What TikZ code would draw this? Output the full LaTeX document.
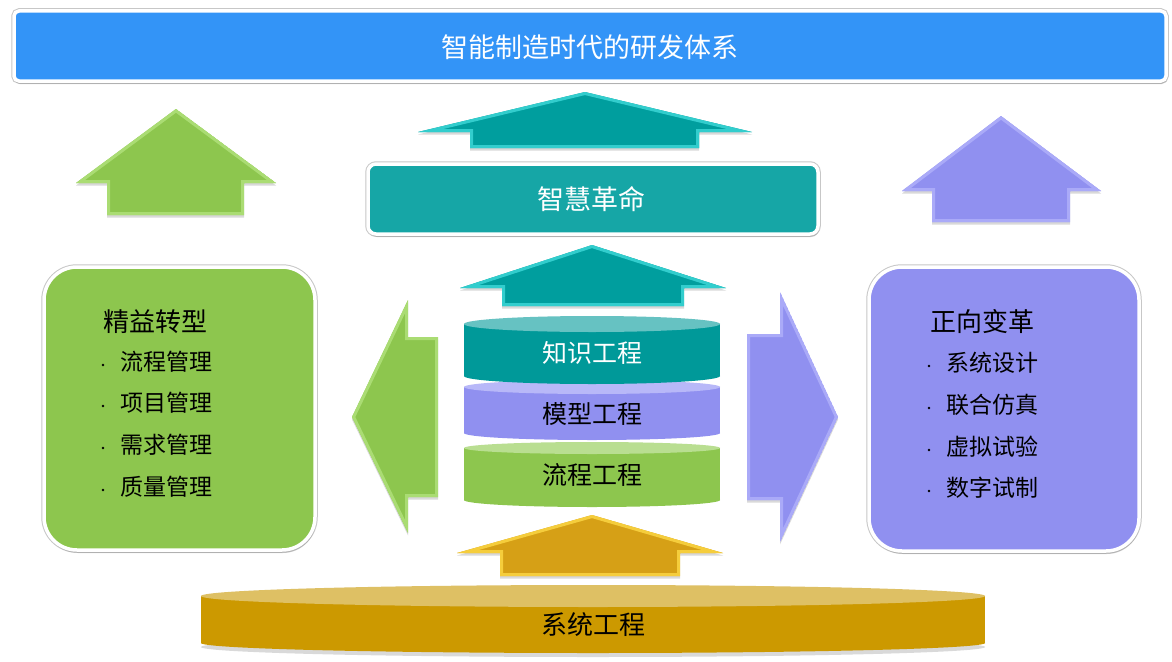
\documentclass[tikz,border=0pt]{standalone}
\usepackage{fontspec}
\newfontfamily\cjk{Noto Sans CJK SC}
\usetikzlibrary{shadows}
\definecolor{bannerblue}{RGB}{51,148,247}
\definecolor{tealbox}{RGB}{22,166,166}
\definecolor{tealmain}{RGB}{0,158,158}
\definecolor{teallight}{RGB}{50,205,205}
\definecolor{tealbody}{RGB}{0,153,153}
\definecolor{tealtop}{RGB}{102,194,194}
\definecolor{purmain}{RGB}{144,144,240}
\definecolor{purlight}{RGB}{170,170,248}
\definecolor{purtop}{RGB}{184,184,248}
\definecolor{grnmain}{RGB}{141,198,78}
\definecolor{grnlight}{RGB}{170,220,115}
\definecolor{grntop}{RGB}{185,222,145}
\definecolor{goldbody}{RGB}{204,153,0}
\definecolor{goldtop}{RGB}{222,192,100}
\definecolor{goldmain}{RGB}{214,160,22}
\definecolor{goldlight}{RGB}{245,205,60}
\newcommand\bevelpoly[3]{%
  \fill[black,opacity=0.15,yshift=-2.5pt] #1;
  \begin{scope}
    \clip #1;
    \fill[#2] #1;
    \draw[#3,line width=6pt,line join=miter] #1;
  \end{scope}}
\newcommand\cylshape[7]{% cx, rx, ytop, rytop, ybot, rybot, body color
  \fill[#7] (#1-#2,#3) rectangle (#1+#2,#5);
  \fill[#7] (#1,#5) ellipse[x radius=#2, y radius=#6];
}
\tikzset{
  panel/.style={draw=white, line width=3.5pt, preaction={draw=black!22, line width=5.5pt},
    drop shadow={shadow xshift=1pt, shadow yshift=-3pt, opacity=0.3}},
  bullet/.style={circle, fill=black, inner sep=0pt, minimum size=2.6pt},
  bigtxt/.style={font=\cjk\fontsize{27}{30}\selectfont},
  cyltxt/.style={font=\cjk\fontsize{25}{28}\selectfont},
  headtxt/.style={font=\cjk\fontsize{26}{29}\selectfont},
  itemtxt/.style={font=\cjk\fontsize{23}{26}\selectfont},
}
\begin{document}
\begin{tikzpicture}[x=1pt,y=-1pt]
\useasboundingbox (0,0) rectangle (1172,661);
\fill[white] (0,0) rectangle (1172,661);

% top banner
\node[panel, fill=bannerblue, rounded corners=5pt, minimum width=1152pt, minimum height=70pt, inner sep=0pt] (banner) at (590,46) {};
\node[bigtxt, text=white] (bannertxt) at (590,47) {智能制造时代的研发体系};

% side up arrows
\bevelpoly{(176,109) -- (276,183) -- (244,183) -- (244,215) -- (107,215) -- (107,183) -- (76,183) -- cycle}{grnmain}{grnlight}
\bevelpoly{(1001,116) -- (1101,191) -- (1070,191) -- (1070,222) -- (932,222) -- (932,191) -- (902,191) -- cycle}{purmain}{purlight}

% top teal arrow
\bevelpoly{(585,92) -- (752,132) -- (699,132) -- (699,148) -- (470,148) -- (470,132) -- (418,132) -- cycle}{tealmain}{teallight}

% wisdom revolution box
\node[panel, fill=tealbox, rounded corners=8pt, minimum width=450pt, minimum height=70pt, inner sep=0pt] (wisdom) at (593,199) {};
\node[bigtxt, text=white] (wisdomtxt) at (591,199) {智慧革命};

% middle teal arrow
\bevelpoly{(592,245) -- (726,288) -- (684,288) -- (684,306) -- (502,306) -- (502,288) -- (460,288) -- cycle}{tealmain}{teallight}

% left / right arrows
\bevelpoly{(352,417) -- (408,300) -- (408,337) -- (438,337) -- (438,497) -- (408,497) -- (408,533) -- cycle}{grnmain}{grnlight}
\bevelpoly{(838,417) -- (780,292) -- (780,334) -- (747,334) -- (747,500) -- (780,500) -- (780,542) -- cycle}{purmain}{purlight}

% bottom gold arrow
\bevelpoly{(592,515) -- (723,553) -- (680,553) -- (680,576) -- (500,576) -- (500,553) -- (457,553) -- cycle}{goldmain}{goldlight}

% stacked cylinders
\cylshape{592}{128}{448}{6}{500}{7}{grnmain}
\fill[grntop] (592,448) ellipse[x radius=128, y radius=6];
\cylshape{592}{128}{387}{7}{433}{7}{purmain}
\fill[purtop] (592,387) ellipse[x radius=128, y radius=7];
\cylshape{592}{128}{324}{8}{376}{8}{tealbody}
\fill[tealtop] (592,324) ellipse[x radius=128, y radius=8];
\node[cyltxt, text=white] (know) at (592,353) {知识工程};
\node[cyltxt, text=black] (model) at (592,414) {模型工程};
\node[cyltxt, text=black] (flow) at (592,475) {流程工程};

% system engineering base
\fill[black,opacity=0.15] (593,647) ellipse[x radius=392, y radius=10];
\cylshape{593}{392}{596}{11}{643}{10}{goldbody}
\fill[goldtop] (593,596) ellipse[x radius=392, y radius=11];
\node[headtxt, text=black] (syseng) at (593,625) {系统工程};

% left panel
\node[panel, fill=grnmain, rounded corners=33pt, minimum width=271pt, minimum height=283pt, inner sep=0pt] (lean) at (179.5,408.5) {};
\node[headtxt] (leantitle) at (155,322) {精益转型};
\node[itemtxt] (l1) at (166,362) {流程管理};
\node[itemtxt] (l2) at (166,403) {项目管理};
\node[itemtxt] (l3) at (166,445) {需求管理};
\node[itemtxt] (l4) at (166,487) {质量管理};
\node[bullet] (lb1) at (103,365) {};
\node[bullet] (lb2) at (103,406) {};
\node[bullet] (lb3) at (103,448) {};
\node[bullet] (lb4) at (103,490) {};

% right panel
\node[panel, fill=purmain, rounded corners=33pt, minimum width=270pt, minimum height=284pt, inner sep=0pt] (fwd) at (1004,409) {};
\node[headtxt] (fwdtitle) at (982,322) {正向变革};
\node[itemtxt] (r1) at (992,363) {系统设计};
\node[itemtxt] (r2) at (992,405) {联合仿真};
\node[itemtxt] (r3) at (992,447) {虚拟试验};
\node[itemtxt] (r4) at (992,488) {数字试制};
\node[bullet] (rb1) at (929,366) {};
\node[bullet] (rb2) at (929,408) {};
\node[bullet] (rb3) at (929,450) {};
\node[bullet] (rb4) at (929,491) {};
\end{tikzpicture}
\end{document}
